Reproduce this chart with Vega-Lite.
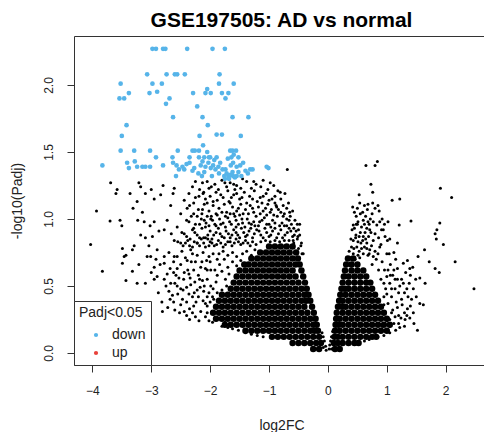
{
"$schema": "https://vega.github.io/schema/vega-lite/v6.json",
"autosize": {"type": "none"},
"padding": {"left": 74, "top": 36, "right": 0, "bottom": 67},
"width": 415,
"height": 329,
"title": {"text": "GSE197505: AD vs normal", "fontSize": 21, "fontWeight": "bold", "font": "Liberation Sans", "anchor": "middle", "frame": "group", "offset": 5, "color": "#000"},
"config": {
  "font": "Liberation Sans",
  "view": {"stroke": "#333", "strokeWidth": 1},
  "legend": {"orient": "bottom-left", "offset": 0, "fillColor": "white", "strokeColor": "#333", "padding": 5, "titleFontSize": 14, "titleFontWeight": "normal", "labelFontSize": 14, "symbolType": "circle", "symbolSize": 18, "symbolOffset": 10, "labelOffset": 9, "rowPadding": 4, "titlePadding": 8, "titleColor": "#222", "labelColor": "#222"}
},
"datasets": {
"core": [
{"x":-0.15,"y":0.03},{"x":-0.25,"y":0.03},
{"x":-0.12,"y":0.075},{"x":-0.2,"y":0.075},{"x":-0.3,"y":0.075},{"x":-0.4,"y":0.075},{"x":-0.5,"y":0.075},{"x":-0.6,"y":0.075},
{"x":-0.15,"y":0.12},{"x":-0.25,"y":0.12},{"x":-0.35,"y":0.12},{"x":-0.45,"y":0.12},{"x":-0.55,"y":0.12},{"x":-0.65,"y":0.12},{"x":-0.75,"y":0.12},{"x":-0.85,"y":0.12},{"x":-0.95,"y":0.12},
{"x":-0.17,"y":0.165},{"x":-0.23,"y":0.165},{"x":-0.3,"y":0.165},{"x":-0.4,"y":0.165},{"x":-0.5,"y":0.165},{"x":-0.6,"y":0.165},{"x":-0.7,"y":0.165},{"x":-0.8,"y":0.165},{"x":-0.9,"y":0.165},{"x":-1.0,"y":0.165},{"x":-1.1,"y":0.165},{"x":-1.2,"y":0.165},{"x":-1.3,"y":0.165},{"x":-1.4,"y":0.165},
{"x":-0.19,"y":0.21},{"x":-0.25,"y":0.21},{"x":-0.35,"y":0.21},{"x":-0.45,"y":0.21},{"x":-0.55,"y":0.21},{"x":-0.65,"y":0.21},{"x":-0.75,"y":0.21},{"x":-0.85,"y":0.21},{"x":-0.95,"y":0.21},{"x":-1.05,"y":0.21},{"x":-1.15,"y":0.21},{"x":-1.25,"y":0.21},{"x":-1.35,"y":0.21},{"x":-1.45,"y":0.21},{"x":-1.55,"y":0.21},{"x":-1.65,"y":0.21},{"x":-1.75,"y":0.21},
{"x":-0.21,"y":0.255},{"x":-0.3,"y":0.255},{"x":-0.4,"y":0.255},{"x":-0.5,"y":0.255},{"x":-0.6,"y":0.255},{"x":-0.7,"y":0.255},{"x":-0.8,"y":0.255},{"x":-0.9,"y":0.255},{"x":-1.0,"y":0.255},{"x":-1.1,"y":0.255},{"x":-1.2,"y":0.255},{"x":-1.3,"y":0.255},{"x":-1.4,"y":0.255},{"x":-1.5,"y":0.255},{"x":-1.6,"y":0.255},{"x":-1.7,"y":0.255},{"x":-1.8,"y":0.255},{"x":-1.9,"y":0.255},
{"x":-0.24,"y":0.3},{"x":-0.35,"y":0.3},{"x":-0.45,"y":0.3},{"x":-0.55,"y":0.3},{"x":-0.65,"y":0.3},{"x":-0.75,"y":0.3},{"x":-0.85,"y":0.3},{"x":-0.95,"y":0.3},{"x":-1.05,"y":0.3},{"x":-1.15,"y":0.3},{"x":-1.25,"y":0.3},{"x":-1.35,"y":0.3},{"x":-1.45,"y":0.3},{"x":-1.55,"y":0.3},{"x":-1.65,"y":0.3},{"x":-1.75,"y":0.3},{"x":-1.85,"y":0.3},{"x":-1.95,"y":0.3},
{"x":-0.27,"y":0.345},{"x":-0.4,"y":0.345},{"x":-0.5,"y":0.345},{"x":-0.6,"y":0.345},{"x":-0.7,"y":0.345},{"x":-0.8,"y":0.345},{"x":-0.9,"y":0.345},{"x":-1.0,"y":0.345},{"x":-1.1,"y":0.345},{"x":-1.2,"y":0.345},{"x":-1.3,"y":0.345},{"x":-1.4,"y":0.345},{"x":-1.5,"y":0.345},{"x":-1.6,"y":0.345},{"x":-1.7,"y":0.345},{"x":-1.8,"y":0.345},{"x":-1.9,"y":0.345},
{"x":-0.3,"y":0.39},{"x":-0.37,"y":0.39},{"x":-0.45,"y":0.39},{"x":-0.55,"y":0.39},{"x":-0.65,"y":0.39},{"x":-0.75,"y":0.39},{"x":-0.85,"y":0.39},{"x":-0.95,"y":0.39},{"x":-1.05,"y":0.39},{"x":-1.15,"y":0.39},{"x":-1.25,"y":0.39},{"x":-1.35,"y":0.39},{"x":-1.45,"y":0.39},{"x":-1.55,"y":0.39},{"x":-1.65,"y":0.39},{"x":-1.75,"y":0.39},{"x":-1.85,"y":0.39},
{"x":-0.33,"y":0.435},{"x":-0.4,"y":0.435},{"x":-0.5,"y":0.435},{"x":-0.6,"y":0.435},{"x":-0.7,"y":0.435},{"x":-0.8,"y":0.435},{"x":-0.9,"y":0.435},{"x":-1.0,"y":0.435},{"x":-1.1,"y":0.435},{"x":-1.2,"y":0.435},{"x":-1.3,"y":0.435},{"x":-1.4,"y":0.435},{"x":-1.5,"y":0.435},{"x":-1.6,"y":0.435},{"x":-1.7,"y":0.435},{"x":-1.8,"y":0.435},
{"x":-0.36,"y":0.48},{"x":-0.45,"y":0.48},{"x":-0.55,"y":0.48},{"x":-0.65,"y":0.48},{"x":-0.75,"y":0.48},{"x":-0.85,"y":0.48},{"x":-0.95,"y":0.48},{"x":-1.05,"y":0.48},{"x":-1.15,"y":0.48},{"x":-1.25,"y":0.48},{"x":-1.35,"y":0.48},{"x":-1.45,"y":0.48},{"x":-1.55,"y":0.48},{"x":-1.65,"y":0.48},
{"x":-0.39,"y":0.525},{"x":-0.5,"y":0.525},{"x":-0.6,"y":0.525},{"x":-0.7,"y":0.525},{"x":-0.8,"y":0.525},{"x":-0.9,"y":0.525},{"x":-1.0,"y":0.525},{"x":-1.1,"y":0.525},{"x":-1.2,"y":0.525},{"x":-1.3,"y":0.525},{"x":-1.4,"y":0.525},{"x":-1.5,"y":0.525},{"x":-1.6,"y":0.525},
{"x":-0.42,"y":0.57},{"x":-0.55,"y":0.57},{"x":-0.65,"y":0.57},{"x":-0.75,"y":0.57},{"x":-0.85,"y":0.57},{"x":-0.95,"y":0.57},{"x":-1.05,"y":0.57},{"x":-1.15,"y":0.57},{"x":-1.25,"y":0.57},{"x":-1.35,"y":0.57},{"x":-1.45,"y":0.57},{"x":-1.55,"y":0.57},
{"x":-0.45,"y":0.615},{"x":-0.6,"y":0.615},{"x":-0.7,"y":0.615},{"x":-0.8,"y":0.615},{"x":-0.9,"y":0.615},{"x":-1.0,"y":0.615},{"x":-1.1,"y":0.615},{"x":-1.2,"y":0.615},{"x":-1.3,"y":0.615},{"x":-1.4,"y":0.615},{"x":-1.5,"y":0.615},
{"x":-0.48,"y":0.66},{"x":-0.55,"y":0.66},{"x":-0.65,"y":0.66},{"x":-0.75,"y":0.66},{"x":-0.85,"y":0.66},{"x":-0.95,"y":0.66},{"x":-1.05,"y":0.66},{"x":-1.15,"y":0.66},{"x":-1.25,"y":0.66},{"x":-1.35,"y":0.66},{"x":-1.42,"y":0.66},
{"x":-0.51,"y":0.705},{"x":-0.6,"y":0.705},{"x":-0.7,"y":0.705},{"x":-0.8,"y":0.705},{"x":-0.9,"y":0.705},{"x":-1.0,"y":0.705},{"x":-1.1,"y":0.705},{"x":-1.2,"y":0.705},{"x":-1.3,"y":0.705},
{"x":-0.54,"y":0.75},{"x":-0.65,"y":0.75},{"x":-0.75,"y":0.75},{"x":-0.85,"y":0.75},{"x":-0.95,"y":0.75},{"x":-1.05,"y":0.75},{"x":-1.15,"y":0.75},
{"x":-0.6,"y":0.795},{"x":-0.7,"y":0.795},{"x":-0.8,"y":0.795},{"x":-0.9,"y":0.795},{"x":-1.0,"y":0.795},
{"x":0.12,"y":0.03},{"x":0.2,"y":0.03},
{"x":0.1,"y":0.075},{"x":0.17,"y":0.075},{"x":0.25,"y":0.075},{"x":0.35,"y":0.075},{"x":0.45,"y":0.075},{"x":0.52,"y":0.075},
{"x":0.11,"y":0.12},{"x":0.17,"y":0.12},{"x":0.25,"y":0.12},{"x":0.35,"y":0.12},{"x":0.45,"y":0.12},{"x":0.55,"y":0.12},{"x":0.65,"y":0.12},{"x":0.75,"y":0.12},{"x":0.82,"y":0.12},
{"x":0.12,"y":0.165},{"x":0.2,"y":0.165},{"x":0.3,"y":0.165},{"x":0.4,"y":0.165},{"x":0.5,"y":0.165},{"x":0.6,"y":0.165},{"x":0.7,"y":0.165},{"x":0.8,"y":0.165},{"x":0.9,"y":0.165},{"x":1.0,"y":0.165},
{"x":0.13,"y":0.21},{"x":0.18,"y":0.21},{"x":0.25,"y":0.21},{"x":0.35,"y":0.21},{"x":0.45,"y":0.21},{"x":0.55,"y":0.21},{"x":0.65,"y":0.21},{"x":0.75,"y":0.21},{"x":0.85,"y":0.21},{"x":0.95,"y":0.21},{"x":1.05,"y":0.21},
{"x":0.14,"y":0.255},{"x":0.2,"y":0.255},{"x":0.3,"y":0.255},{"x":0.4,"y":0.255},{"x":0.5,"y":0.255},{"x":0.6,"y":0.255},{"x":0.7,"y":0.255},{"x":0.8,"y":0.255},{"x":0.9,"y":0.255},{"x":1.0,"y":0.255},
{"x":0.15,"y":0.3},{"x":0.25,"y":0.3},{"x":0.35,"y":0.3},{"x":0.45,"y":0.3},{"x":0.55,"y":0.3},{"x":0.65,"y":0.3},{"x":0.75,"y":0.3},{"x":0.85,"y":0.3},{"x":0.95,"y":0.3},
{"x":0.17,"y":0.345},{"x":0.24,"y":0.345},{"x":0.3,"y":0.345},{"x":0.4,"y":0.345},{"x":0.5,"y":0.345},{"x":0.6,"y":0.345},{"x":0.7,"y":0.345},{"x":0.8,"y":0.345},{"x":0.9,"y":0.345},
{"x":0.19,"y":0.39},{"x":0.25,"y":0.39},{"x":0.35,"y":0.39},{"x":0.45,"y":0.39},{"x":0.55,"y":0.39},{"x":0.65,"y":0.39},{"x":0.75,"y":0.39},{"x":0.85,"y":0.39},
{"x":0.21,"y":0.435},{"x":0.3,"y":0.435},{"x":0.4,"y":0.435},{"x":0.5,"y":0.435},{"x":0.6,"y":0.435},{"x":0.7,"y":0.435},{"x":0.8,"y":0.435},
{"x":0.23,"y":0.48},{"x":0.29,"y":0.48},{"x":0.35,"y":0.48},{"x":0.45,"y":0.48},{"x":0.55,"y":0.48},{"x":0.65,"y":0.48},{"x":0.75,"y":0.48},
{"x":0.25,"y":0.525},{"x":0.35,"y":0.525},{"x":0.45,"y":0.525},{"x":0.55,"y":0.525},{"x":0.65,"y":0.525},{"x":0.72,"y":0.525},
{"x":0.27,"y":0.57},{"x":0.35,"y":0.57},{"x":0.45,"y":0.57},{"x":0.55,"y":0.57},{"x":0.65,"y":0.57},
{"x":0.29,"y":0.615},{"x":0.4,"y":0.615},{"x":0.5,"y":0.615},{"x":0.6,"y":0.615},
{"x":0.31,"y":0.66},{"x":0.4,"y":0.66},{"x":0.5,"y":0.66},
{"x":0.34,"y":0.705},{"x":0.43,"y":0.705}
],
"dots": [
{"x":-3.69,"y":1.27},{"x":-3.6,"y":1.19},{"x":-3.58,"y":1.22},{"x":-3.93,"y":1.06},{"x":-3.7,"y":0.985},{"x":-3.53,"y":0.99},{"x":-3.5,"y":0.95},{"x":-4.03,"y":0.81},{"x":-3.49,"y":0.78},{"x":-3.46,"y":0.72},{"x":-3.36,"y":1.19},{"x":-3.31,"y":1.08},{"x":-3.24,"y":1.13},{"x":-3.21,"y":1.27},{"x":-3.18,"y":1.24},{"x":-3.15,"y":1.05},{"x":-3.23,"y":0.99},{"x":-3.12,"y":0.98},{"x":-3.1,"y":1.19},{"x":-3.0,"y":1.22},{"x":-2.95,"y":1.15},{"x":-2.84,"y":1.18},{"x":-2.8,"y":1.25},{"x":-3.02,"y":0.95},{"x":-2.95,"y":0.98},{"x":-3.29,"y":0.8},{"x":-3.32,"y":0.77},{"x":-3.18,"y":0.88},{"x":-3.1,"y":0.86},{"x":-3.04,"y":0.8},{"x":-2.98,"y":0.87},{"x":-2.87,"y":0.91},{"x":-2.9,"y":0.77},{"x":-2.78,"y":0.92},{"x":-2.73,"y":0.99},{"x":-2.67,"y":1.1},{"x":-2.63,"y":1.19},{"x":-2.61,"y":1.23},{"x":-2.66,"y":0.89},{"x":-2.61,"y":0.84},{"x":-2.56,"y":0.94},{"x":-2.5,"y":1.04},{"x":-2.44,"y":1.14},{"x":-2.36,"y":1.19},{"x":-2.3,"y":1.24},{"x":-2.25,"y":1.28},{"x":-2.13,"y":1.27},{"x":-2.39,"y":1.08},{"x":-2.28,"y":1.12},{"x":-2.19,"y":1.17},{"x":-2.11,"y":1.2},{"x":-2.02,"y":1.23},{"x":-2.5,"y":0.82},{"x":-2.44,"y":0.89},{"x":-2.36,"y":0.98},{"x":-2.28,"y":0.93},{"x":-2.22,"y":1.02},{"x":-2.13,"y":1.07},{"x":-2.05,"y":1.12},{"x":-2.08,"y":0.94},{"x":-1.99,"y":1.0},{"x":-2.33,"y":0.77},{"x":-2.22,"y":0.82},{"x":-2.11,"y":0.86},{"x":-2.02,"y":0.8},{"x":-2.56,"y":0.72},{"x":-2.78,"y":0.72},{"x":-3.01,"y":0.72},
{"x":-3.83,"y":0.61},{"x":-3.43,"y":0.73},{"x":-3.49,"y":0.67},{"x":-3.43,"y":0.54},{"x":-3.24,"y":0.52},{"x":-3.32,"y":0.61},{"x":-3.21,"y":0.66},{"x":-3.1,"y":0.52},{"x":-3.07,"y":0.72},{"x":-2.95,"y":0.64},{"x":-2.9,"y":0.57},{"x":-2.81,"y":0.31},{"x":-2.78,"y":0.67},{"x":-2.73,"y":0.59},{"x":-2.67,"y":0.52},{"x":-2.64,"y":0.43},{"x":-2.61,"y":0.72},{"x":-2.56,"y":0.63},{"x":-2.53,"y":0.56},{"x":-2.5,"y":0.48},{"x":-2.47,"y":0.4},{"x":-2.44,"y":0.31},{"x":-2.39,"y":0.69},{"x":-2.36,"y":0.59},{"x":-2.33,"y":0.51},{"x":-2.3,"y":0.42},{"x":-2.28,"y":0.35},{"x":-2.25,"y":0.27},{"x":-2.19,"y":0.24},{"x":-2.22,"y":0.73},{"x":-2.16,"y":0.64},{"x":-2.13,"y":0.54},{"x":-2.11,"y":0.46},{"x":-2.08,"y":0.37},{"x":-2.05,"y":0.3},{"x":-2.02,"y":0.72},{"x":-1.99,"y":0.62},{"x":-1.99,"y":0.5},{"x":-1.96,"y":0.42},{"x":-1.96,"y":0.23},
{"x":-2.7,"y":0.75},{"x":-2.62,"y":0.68},{"x":-2.48,"y":0.76},{"x":-2.42,"y":0.71},{"x":-2.3,"y":0.74},{"x":-2.25,"y":0.68},{"x":-2.12,"y":0.75},{"x":-2.06,"y":0.69},{"x":-1.95,"y":0.74},{"x":-1.88,"y":0.7},{"x":-2.85,"y":0.66},{"x":-2.68,"y":0.63},{"x":-2.5,"y":0.66},{"x":-2.44,"y":0.6},{"x":-2.28,"y":0.62},{"x":-2.2,"y":0.58},{"x":-2.08,"y":0.63},{"x":-1.92,"y":0.62},{"x":-1.84,"y":0.66},{"x":-2.78,"y":0.55},{"x":-2.6,"y":0.52},{"x":-2.45,"y":0.55},{"x":-2.4,"y":0.49},{"x":-2.26,"y":0.53},{"x":-2.17,"y":0.49},{"x":-2.05,"y":0.55},{"x":-1.9,"y":0.53},{"x":-2.7,"y":0.46},{"x":-2.55,"y":0.44},{"x":-2.36,"y":0.44},{"x":-2.2,"y":0.42},{"x":-2.12,"y":0.39},{"x":-2.02,"y":0.45},{"x":-2.5,"y":0.36},{"x":-2.35,"y":0.33},{"x":-2.16,"y":0.31},{"x":-2.08,"y":0.27},{"x":-2.6,"y":0.32},{"x":-2.4,"y":0.28},{"x":-2.02,"y":0.24},{"x":-2.58,"y":0.58},{"x":-2.34,"y":0.56},{"x":-2.22,"y":0.47},{"x":-2.05,"y":0.35},{"x":-2.3,"y":0.3},
{"x":-2.88,"y":0.45},{"x":-2.82,"y":0.38},{"x":-2.75,"y":0.5},{"x":-2.68,"y":0.4},{"x":-2.62,"y":0.6},{"x":-2.56,"y":0.5},{"x":-2.52,"y":0.3},{"x":-2.46,"y":0.47},{"x":-2.4,"y":0.38},{"x":-2.38,"y":0.62},{"x":-2.32,"y":0.68},{"x":-2.27,"y":0.45},{"x":-2.24,"y":0.38},{"x":-2.18,"y":0.55},{"x":-2.14,"y":0.68},{"x":-2.1,"y":0.5},{"x":-2.05,"y":0.62},{"x":-2.0,"y":0.68},{"x":-2.95,"y":0.55},{"x":-2.92,"y":0.7},{"x":-3.0,"y":0.6},{"x":-2.72,"y":0.34},{"x":-2.62,"y":0.38},{"x":-2.35,"y":0.25},
{"x":-2.05,"y":1.28},{"x":-1.92,"y":1.26},{"x":-1.8,"y":1.29},{"x":-1.66,"y":1.27},{"x":-1.55,"y":1.25},{"x":-1.38,"y":1.28},{"x":-1.22,"y":1.26},{"x":-1.1,"y":1.29},{"x":-0.98,"y":1.27},{"x":-1.45,"y":1.3},{"x":-1.72,"y":1.24},{"x":-1.3,"y":1.23},{"x":-1.86,"y":1.22},{"x":-2.18,"y":1.22},
{"x":-1.98,"y":1.24},{"x":-1.6,"y":1.26},{"x":-1.26,"y":1.28},{"x":-1.48,"y":1.23},{"x":-1.14,"y":1.24},{"x":-1.02,"y":1.22},{"x":-0.92,"y":1.25},{"x":-1.75,"y":1.27},
{"x":-2.12,"y":1.19},{"x":-2.0,"y":1.17},{"x":-1.9,"y":1.2},{"x":-1.78,"y":1.16},{"x":-1.7,"y":1.21},{"x":-1.6,"y":1.18},{"x":-1.5,"y":1.15},{"x":-1.42,"y":1.2},{"x":-1.33,"y":1.17},{"x":-1.25,"y":1.21},{"x":-1.15,"y":1.16},{"x":-1.05,"y":1.19},{"x":-0.95,"y":1.15},{"x":-0.85,"y":1.21},{"x":-1.58,"y":1.22},{"x":-1.2,"y":1.13},{"x":-1.88,"y":1.14},{"x":-2.25,"y":1.16},{"x":-1.68,"y":1.13},{"x":-1.38,"y":1.12},
{"x":-2.08,"y":1.15},{"x":-1.95,"y":1.13},{"x":-1.82,"y":1.18},{"x":-1.64,"y":1.16},{"x":-1.55,"y":1.19},{"x":-1.46,"y":1.16},{"x":-1.28,"y":1.15},{"x":-1.1,"y":1.17},{"x":-1.0,"y":1.14},{"x":-0.9,"y":1.12},{"x":-0.8,"y":1.15},{"x":-0.76,"y":1.1},
{"x":-2.35,"y":1.1},{"x":-2.2,"y":1.07},{"x":-2.1,"y":1.11},{"x":-2.02,"y":1.06},{"x":-1.95,"y":1.1},{"x":-1.85,"y":1.08},{"x":-1.76,"y":1.11},{"x":-1.72,"y":1.05},{"x":-1.62,"y":1.09},{"x":-1.55,"y":1.06},{"x":-1.48,"y":1.11},{"x":-1.4,"y":1.07},{"x":-1.32,"y":1.1},{"x":-1.26,"y":1.05},{"x":-1.18,"y":1.09},{"x":-1.1,"y":1.06},{"x":-1.02,"y":1.11},{"x":-0.96,"y":1.07},{"x":-0.88,"y":1.1},{"x":-0.8,"y":1.05},{"x":-0.7,"y":1.08},{"x":-1.66,"y":1.12},{"x":-1.9,"y":1.04},{"x":-1.12,"y":1.12},{"x":-1.44,"y":1.04},{"x":-2.28,"y":1.04},{"x":-0.92,"y":1.03},{"x":-1.58,"y":1.02},
{"x":-2.14,"y":1.04},{"x":-2.05,"y":1.02},{"x":-1.8,"y":1.05},{"x":-1.66,"y":1.04},{"x":-1.52,"y":1.08},{"x":-1.35,"y":1.04},{"x":-1.28,"y":1.08},{"x":-1.15,"y":1.04},{"x":-1.06,"y":1.08},{"x":-0.98,"y":1.05},{"x":-0.84,"y":1.07},{"x":-0.74,"y":1.04},{"x":-0.64,"y":1.02},{"x":-0.6,"y":1.06},
{"x":-2.4,"y":0.99},{"x":-2.32,"y":1.02},{"x":-2.25,"y":0.96},{"x":-2.15,"y":1.0},{"x":-2.07,"y":0.97},{"x":-1.98,"y":1.02},{"x":-1.92,"y":0.96},{"x":-1.84,"y":1.0},{"x":-1.78,"y":0.97},{"x":-1.7,"y":1.01},{"x":-1.64,"y":0.96},{"x":-1.56,"y":0.99},{"x":-1.5,"y":1.03},{"x":-1.45,"y":0.97},{"x":-1.37,"y":1.0},{"x":-1.3,"y":0.96},{"x":-1.22,"y":1.02},{"x":-1.16,"y":0.98},{"x":-1.08,"y":1.01},{"x":-1.0,"y":0.96},{"x":-0.94,"y":0.99},{"x":-0.86,"y":1.02},{"x":-0.78,"y":0.97},{"x":-0.7,"y":1.0},{"x":-0.62,"y":0.96},{"x":-0.56,"y":0.99},{"x":-1.88,"y":1.03},{"x":-1.6,"y":1.04},{"x":-1.26,"y":0.98},{"x":-1.04,"y":1.03},{"x":-0.82,"y":0.95},{"x":-2.02,"y":0.95},
{"x":-2.18,"y":0.96},{"x":-2.1,"y":0.99},{"x":-1.96,"y":0.99},{"x":-1.82,"y":0.96},{"x":-1.74,"y":0.94},{"x":-1.67,"y":0.98},{"x":-1.52,"y":0.96},{"x":-1.41,"y":0.94},{"x":-1.34,"y":0.97},{"x":-1.18,"y":0.95},{"x":-1.12,"y":0.99},{"x":-1.04,"y":0.96},{"x":-0.9,"y":0.97},{"x":-0.74,"y":0.95},{"x":-0.66,"y":0.99},{"x":-0.58,"y":0.93},{"x":-0.52,"y":0.96},{"x":-1.46,"y":1.0},{"x":-1.74,"y":1.02},
{"x":-2.48,"y":0.9},{"x":-2.4,"y":0.87},{"x":-2.3,"y":0.92},{"x":-2.22,"y":0.88},{"x":-2.14,"y":0.93},{"x":-2.08,"y":0.86},{"x":-2.0,"y":0.91},{"x":-1.94,"y":0.88},{"x":-1.86,"y":0.93},{"x":-1.8,"y":0.87},{"x":-1.73,"y":0.91},{"x":-1.66,"y":0.86},{"x":-1.6,"y":0.92},{"x":-1.53,"y":0.88},{"x":-1.47,"y":0.93},{"x":-1.4,"y":0.87},{"x":-1.34,"y":0.91},{"x":-1.28,"y":0.86},{"x":-1.21,"y":0.92},{"x":-1.14,"y":0.88},{"x":-1.07,"y":0.93},{"x":-1.0,"y":0.87},{"x":-0.94,"y":0.91},{"x":-0.87,"y":0.86},{"x":-0.8,"y":0.92},{"x":-0.73,"y":0.88},{"x":-0.66,"y":0.93},{"x":-0.6,"y":0.87},{"x":-0.54,"y":0.91},{"x":-0.48,"y":0.88},{"x":-1.9,"y":0.95},{"x":-1.56,"y":0.94},{"x":-1.24,"y":0.95},{"x":-0.97,"y":0.94},{"x":-0.7,"y":0.95},{"x":-2.34,"y":0.85},
{"x":-2.26,"y":0.9},{"x":-2.18,"y":0.86},{"x":-2.04,"y":0.88},{"x":-1.97,"y":0.85},{"x":-1.9,"y":0.9},{"x":-1.83,"y":0.89},{"x":-1.76,"y":0.86},{"x":-1.69,"y":0.89},{"x":-1.63,"y":0.88},{"x":-1.56,"y":0.9},{"x":-1.5,"y":0.86},{"x":-1.43,"y":0.9},{"x":-1.37,"y":0.88},{"x":-1.31,"y":0.93},{"x":-1.25,"y":0.89},{"x":-1.17,"y":0.91},{"x":-1.1,"y":0.86},{"x":-1.04,"y":0.9},{"x":-0.97,"y":0.88},{"x":-0.9,"y":0.93},{"x":-0.84,"y":0.89},{"x":-0.77,"y":0.86},{"x":-0.69,"y":0.9},{"x":-0.63,"y":0.91},{"x":-0.57,"y":0.88},{"x":-0.51,"y":0.87},
{"x":-2.55,"y":0.83},{"x":-2.46,"y":0.8},{"x":-2.38,"y":0.84},{"x":-2.3,"y":0.79},{"x":-2.22,"y":0.82},{"x":-2.15,"y":0.85},{"x":-2.08,"y":0.79},{"x":-2.0,"y":0.83},{"x":-1.93,"y":0.8},{"x":-1.86,"y":0.84},{"x":-1.78,"y":0.79},{"x":-1.7,"y":0.83},{"x":-1.63,"y":0.8},{"x":-1.56,"y":0.85},{"x":-1.48,"y":0.81},{"x":-1.4,"y":0.84},{"x":-1.32,"y":0.8},{"x":-0.58,"y":0.82},{"x":-0.52,"y":0.85},{"x":-0.46,"y":0.8},{"x":-0.5,"y":0.78},{"x":-0.62,"y":0.79},{"x":-0.44,"y":0.74},
{"x":-2.42,"y":0.82},{"x":-2.35,"y":0.8},{"x":-2.27,"y":0.83},{"x":-2.18,"y":0.8},{"x":-2.11,"y":0.82},{"x":-2.04,"y":0.85},{"x":-1.97,"y":0.82},{"x":-1.89,"y":0.81},{"x":-1.82,"y":0.82},{"x":-1.74,"y":0.81},{"x":-1.66,"y":0.83},{"x":-1.59,"y":0.82},{"x":-1.52,"y":0.83},{"x":-1.44,"y":0.82},{"x":-1.36,"y":0.82},{"x":-1.28,"y":0.83},{"x":-1.22,"y":0.81},{"x":-1.14,"y":0.83},{"x":-1.06,"y":0.84},{"x":-0.98,"y":0.83},{"x":-0.9,"y":0.84},{"x":-0.82,"y":0.83},{"x":-0.74,"y":0.84},{"x":-0.66,"y":0.84},
{"x":-1.45,"y":0.74},{"x":-1.38,"y":0.76},{"x":-1.3,"y":0.73},{"x":-1.24,"y":0.77},{"x":-1.55,"y":0.72},{"x":-1.62,"y":0.75},{"x":-1.7,"y":0.73},{"x":-1.78,"y":0.76},{"x":-1.85,"y":0.74},
{"x":-1.55,"y":0.65},{"x":-1.62,"y":0.68},{"x":-1.7,"y":0.64},{"x":-1.76,"y":0.7},{"x":-1.48,"y":0.69},{"x":-1.8,"y":0.61},{"x":-1.68,"y":0.59},{"x":-1.74,"y":0.55},{"x":-1.72,"y":0.5},{"x":-1.8,"y":0.47},{"x":-1.88,"y":0.45},{"x":-1.95,"y":0.48},{"x":-1.88,"y":0.58},{"x":-1.94,"y":0.4},{"x":-2.0,"y":0.38},{"x":-2.05,"y":0.42},
{"x":-0.69,"y":1.37},{"x":-0.48,"y":0.96},{"x":-0.5,"y":0.92},{"x":-0.59,"y":0.84},{"x":-0.65,"y":1.05},{"x":-0.67,"y":1.12},{"x":-0.73,"y":1.19},{"x":-0.81,"y":1.2},{"x":-0.9,"y":1.17},{"x":-0.87,"y":1.09},{"x":-0.76,"y":1.02},{"x":-0.45,"y":0.82},{"x":-0.42,"y":0.74},
{"x":-1.8,"y":0.2},{"x":-1.7,"y":0.19},{"x":-1.62,"y":0.18},{"x":-1.52,"y":0.17},{"x":-1.4,"y":0.15},{"x":-1.3,"y":0.14},{"x":-1.2,"y":0.13},{"x":-1.1,"y":0.12},{"x":-1.88,"y":0.26},{"x":-1.75,"y":0.23},
{"x":-0.03,"y":0.02},{"x":-0.04,"y":0.05},{"x":-0.06,"y":0.09},{"x":-0.08,"y":0.12},{"x":-0.1,"y":0.15},{"x":-0.08,"y":0.04},{"x":0.02,"y":0.03},{"x":0.03,"y":0.06},{"x":0.045,"y":0.09},{"x":0.06,"y":0.12},{"x":0.08,"y":0.16},{"x":0.06,"y":0.03},
{"x":0.7,"y":0.1},{"x":0.85,"y":0.12},{"x":0.95,"y":0.13},{"x":1.05,"y":0.15},{"x":1.15,"y":0.17},{"x":0.62,"y":0.09},
{"x":0.645,"y":1.4},{"x":0.8,"y":1.4},{"x":0.84,"y":1.43},{"x":0.73,"y":1.26},{"x":0.76,"y":1.2},{"x":0.53,"y":1.18},{"x":0.42,"y":1.09},{"x":0.54,"y":1.12},{"x":0.62,"y":1.1},{"x":0.68,"y":1.11},{"x":0.76,"y":1.12},{"x":0.85,"y":1.1},{"x":0.87,"y":1.06},{"x":0.67,"y":1.07},{"x":0.59,"y":1.05},{"x":1.09,"y":1.14},{"x":1.22,"y":1.15},{"x":1.91,"y":1.23},{"x":2.1,"y":1.16},{"x":1.41,"y":0.985},{"x":1.21,"y":0.955},{"x":1.9,"y":0.97},{"x":1.85,"y":0.92},{"x":1.82,"y":0.89},{"x":1.84,"y":0.85},{"x":1.96,"y":0.81},{"x":1.64,"y":0.77},{"x":1.53,"y":0.72},{"x":1.18,"y":0.82},{"x":1.01,"y":0.84},{"x":1.05,"y":0.85},{"x":0.97,"y":0.87},{"x":1.02,"y":0.98},{"x":0.94,"y":0.92},{"x":0.91,"y":0.92},{"x":1.0,"y":0.74},{"x":1.04,"y":0.74},{"x":0.88,"y":0.79},{"x":0.77,"y":0.84},{"x":0.8,"y":0.89},{"x":0.71,"y":0.92},{"x":0.83,"y":0.955},{"x":0.77,"y":0.98},{"x":0.68,"y":0.98},{"x":0.6,"y":0.99},{"x":0.51,"y":0.98},{"x":0.43,"y":0.955},{"x":0.57,"y":0.94},{"x":0.66,"y":0.93},
{"x":0.475,"y":0.88},{"x":0.53,"y":0.87},{"x":0.6,"y":0.87},{"x":0.43,"y":0.84},{"x":0.51,"y":0.83},{"x":0.59,"y":0.84},{"x":0.66,"y":0.82},{"x":0.4,"y":0.79},{"x":0.49,"y":0.79},{"x":0.57,"y":0.78},{"x":0.66,"y":0.78},{"x":0.71,"y":0.77},{"x":0.43,"y":0.74},{"x":0.51,"y":0.73},{"x":0.6,"y":0.74},{"x":0.68,"y":0.73},{"x":0.77,"y":0.72},{"x":0.385,"y":0.71},{"x":0.46,"y":0.7},{"x":0.54,"y":0.71},{"x":0.45,"y":0.93},{"x":0.5,"y":0.96},{"x":0.62,"y":0.96},{"x":0.72,"y":1.0},{"x":0.48,"y":1.02},
{"x":0.36,"y":0.76},{"x":0.44,"y":0.78},{"x":0.53,"y":0.76},{"x":0.62,"y":0.79},{"x":0.7,"y":0.74},{"x":0.74,"y":0.8},{"x":0.8,"y":0.76},{"x":0.85,"y":0.74},{"x":0.39,"y":0.85},{"x":0.47,"y":0.86},{"x":0.56,"y":0.82},{"x":0.64,"y":0.85},{"x":0.69,"y":0.87},{"x":0.73,"y":0.9},{"x":0.86,"y":0.86},{"x":0.9,"y":0.81},{"x":0.55,"y":0.9},{"x":0.63,"y":0.9},{"x":0.41,"y":0.92},{"x":0.48,"y":0.96},{"x":0.7,"y":0.96},{"x":0.75,"y":1.04},{"x":0.64,"y":1.02},{"x":0.55,"y":1.04},{"x":0.45,"y":1.05},{"x":0.5,"y":1.08},{"x":0.8,"y":1.08},{"x":0.92,"y":1.0},{"x":0.96,"y":0.96},{"x":0.88,"y":0.98},
{"x":1.72,"y":0.68},{"x":2.16,"y":0.68},{"x":1.82,"y":0.63},{"x":1.89,"y":0.6},{"x":2.48,"y":0.48},{"x":1.65,"y":0.52},{"x":1.56,"y":0.56},{"x":1.49,"y":0.55},{"x":1.39,"y":0.63},{"x":1.35,"y":0.69},{"x":1.45,"y":0.48},{"x":1.56,"y":0.37},{"x":1.62,"y":0.36},{"x":1.39,"y":0.26},{"x":1.46,"y":0.22},{"x":1.52,"y":0.17},{"x":1.31,"y":0.25},
{"x":1.02,"y":0.62},{"x":1.1,"y":0.58},{"x":1.18,"y":0.63},{"x":1.25,"y":0.55},{"x":1.32,"y":0.6},{"x":1.05,"y":0.52},{"x":1.14,"y":0.48},{"x":1.22,"y":0.5},{"x":1.3,"y":0.45},{"x":1.38,"y":0.52},{"x":1.42,"y":0.4},{"x":1.08,"y":0.42},{"x":1.16,"y":0.38},{"x":1.26,"y":0.36},{"x":1.35,"y":0.33},{"x":1.45,"y":0.3},{"x":1.1,"y":0.32},{"x":1.2,"y":0.28},{"x":1.3,"y":0.2},{"x":1.12,"y":0.22},{"x":1.22,"y":0.19},{"x":1.05,"y":0.25},{"x":1.0,"y":0.57},{"x":0.96,"y":0.62},{"x":1.06,"y":0.66},{"x":1.28,"y":0.67},{"x":1.15,"y":0.7},{"x":0.98,"y":0.48},{"x":1.02,"y":0.37},{"x":1.36,"y":0.42},{"x":1.18,"y":0.55},{"x":0.92,"y":0.68},{"x":0.86,"y":0.62},{"x":0.9,"y":0.55},{"x":0.95,"y":0.42},{"x":0.97,"y":0.3},{"x":0.92,"y":0.2},{"x":1.12,"y":0.75},{"x":0.82,"y":0.7},{"x":0.75,"y":0.66},
{"x":0.95,"y":0.52},{"x":1.0,"y":0.44},{"x":1.06,"y":0.58},{"x":1.12,"y":0.62},{"x":1.08,"y":0.48},{"x":1.14,"y":0.55},{"x":1.2,"y":0.45},{"x":1.25,"y":0.4},{"x":1.28,"y":0.52},{"x":1.34,"y":0.48},{"x":1.4,"y":0.58},{"x":1.44,"y":0.64},{"x":1.5,"y":0.42},{"x":1.18,"y":0.34},{"x":1.24,"y":0.26},{"x":1.34,"y":0.28},{"x":1.4,"y":0.35},{"x":1.08,"y":0.3},{"x":1.14,"y":0.27},{"x":1.0,"y":0.24},{"x":0.95,"y":0.36},{"x":1.05,"y":0.2},{"x":1.2,"y":0.22},{"x":1.3,"y":0.3}
],
"sig": [
{"x":-2.98,"y":2.27,"g":"down"},{"x":-2.92,"y":2.27,"g":"down"},{"x":-2.8,"y":2.27,"g":"down"},{"x":-2.76,"y":2.27,"g":"down"},{"x":-2.39,"y":2.27,"g":"down"},{"x":-1.96,"y":2.27,"g":"down"},{"x":-1.75,"y":2.27,"g":"down"},
{"x":-3.07,"y":2.08,"g":"down"},{"x":-2.74,"y":2.08,"g":"down"},{"x":-2.6,"y":2.08,"g":"down"},{"x":-2.56,"y":2.08,"g":"down"},{"x":-2.43,"y":2.08,"g":"down"},{"x":-1.84,"y":2.08,"g":"down"},
{"x":-3.52,"y":2.01,"g":"down"},{"x":-2.98,"y":2.01,"g":"down"},{"x":-2.82,"y":2.01,"g":"down"},{"x":-1.85,"y":2.01,"g":"down"},{"x":-1.6,"y":2.01,"g":"down"},
{"x":-2.05,"y":1.97,"g":"down"},{"x":-3.38,"y":1.94,"g":"down"},{"x":-3.03,"y":1.94,"g":"down"},{"x":-2.9,"y":1.95,"g":"down"},{"x":-2.29,"y":1.94,"g":"down"},{"x":-2.08,"y":1.94,"g":"down"},{"x":-1.99,"y":1.94,"g":"down"},{"x":-1.8,"y":1.94,"g":"down"},{"x":-1.69,"y":1.94,"g":"down"},
{"x":-3.54,"y":1.9,"g":"down"},{"x":-3.46,"y":1.9,"g":"down"},{"x":-2.69,"y":1.9,"g":"down"},{"x":-1.74,"y":1.9,"g":"down"},{"x":-2.75,"y":1.86,"g":"down"},{"x":-2.22,"y":1.84,"g":"down"},
{"x":-2.63,"y":1.76,"g":"down"},{"x":-2.13,"y":1.76,"g":"down"},{"x":-1.62,"y":1.76,"g":"down"},{"x":-1.35,"y":1.76,"g":"down"},{"x":-3.42,"y":1.7,"g":"down"},{"x":-2.04,"y":1.7,"g":"down"},
{"x":-1.89,"y":1.63,"g":"down"},{"x":-1.8,"y":1.63,"g":"down"},{"x":-3.5,"y":1.62,"g":"down"},{"x":-2.18,"y":1.62,"g":"down"},{"x":-1.48,"y":1.62,"g":"down"},{"x":-2.12,"y":1.55,"g":"down"},
{"x":-3.52,"y":1.51,"g":"down"},{"x":-3.29,"y":1.51,"g":"down"},{"x":-3.02,"y":1.51,"g":"down"},{"x":-2.55,"y":1.51,"g":"down"},{"x":-2.3,"y":1.51,"g":"down"},{"x":-2.26,"y":1.51,"g":"down"},{"x":-2.19,"y":1.51,"g":"down"},{"x":-1.66,"y":1.51,"g":"down"},{"x":-1.62,"y":1.51,"g":"down"},{"x":-1.56,"y":1.51,"g":"down"},
{"x":-2.92,"y":1.46,"g":"down"},{"x":-2.64,"y":1.46,"g":"down"},{"x":-2.35,"y":1.46,"g":"down"},{"x":-2.19,"y":1.46,"g":"down"},{"x":-2.1,"y":1.46,"g":"down"},{"x":-2.02,"y":1.46,"g":"down"},{"x":-1.89,"y":1.46,"g":"down"},{"x":-1.64,"y":1.46,"g":"down"},{"x":-1.52,"y":1.46,"g":"down"},
{"x":-3.83,"y":1.4,"g":"down"},{"x":-3.41,"y":1.42,"g":"down"},{"x":-3.38,"y":1.38,"g":"down"},{"x":-3.28,"y":1.43,"g":"down"},{"x":-3.24,"y":1.39,"g":"down"},{"x":-3.15,"y":1.39,"g":"down"},{"x":-3.1,"y":1.39,"g":"down"},{"x":-3.02,"y":1.39,"g":"down"},{"x":-2.8,"y":1.4,"g":"down"},{"x":-2.63,"y":1.42,"g":"down"},{"x":-2.57,"y":1.4,"g":"down"},{"x":-2.53,"y":1.37,"g":"down"},{"x":-2.47,"y":1.39,"g":"down"},{"x":-2.44,"y":1.37,"g":"down"},{"x":-2.27,"y":1.38,"g":"down"},{"x":-2.16,"y":1.4,"g":"down"},{"x":-2.13,"y":1.43,"g":"down"},{"x":-2.08,"y":1.39,"g":"down"},{"x":-2.03,"y":1.42,"g":"down"},{"x":-1.99,"y":1.38,"g":"down"},{"x":-1.95,"y":1.4,"g":"down"},{"x":-1.91,"y":1.37,"g":"down"},{"x":-1.86,"y":1.39,"g":"down"},{"x":-1.79,"y":1.37,"g":"down"},{"x":-1.74,"y":1.37,"g":"down"},{"x":-1.65,"y":1.4,"g":"down"},{"x":-1.61,"y":1.42,"g":"down"},{"x":-1.55,"y":1.39,"g":"down"},{"x":-1.49,"y":1.4,"g":"down"},{"x":-1.44,"y":1.42,"g":"down"},{"x":-1.32,"y":1.37,"g":"down"},{"x":-1.28,"y":1.37,"g":"down"},{"x":-1.04,"y":1.39,"g":"down"},{"x":-1.01,"y":1.38,"g":"down"},
{"x":-2.58,"y":1.32,"g":"down"},{"x":-2.14,"y":1.32,"g":"down"},{"x":-1.97,"y":1.32,"g":"down"},{"x":-1.76,"y":1.32,"g":"down"},{"x":-1.69,"y":1.32,"g":"down"},{"x":-1.61,"y":1.32,"g":"down"},{"x":-1.55,"y":1.32,"g":"down"},{"x":-1.47,"y":1.32,"g":"down"},
{"x":-1.72,"y":1.34,"g":"down"},{"x":-1.66,"y":1.33,"g":"down"},{"x":-1.62,"y":1.35,"g":"down"},{"x":-1.58,"y":1.31,"g":"down"},{"x":-1.75,"y":1.3,"g":"down"},{"x":-1.68,"y":1.3,"g":"down"},{"x":-2.1,"y":1.35,"g":"down"},{"x":-2.2,"y":1.34,"g":"down"},{"x":-1.85,"y":1.34,"g":"down"},{"x":-1.52,"y":1.35,"g":"down"},{"x":-1.4,"y":1.36,"g":"down"},{"x":-1.36,"y":1.34,"g":"down"},{"x":-2.3,"y":1.36,"g":"down"},{"x":-2.4,"y":1.41,"g":"down"},{"x":-2.0,"y":1.46,"g":"down"},{"x":-1.93,"y":1.44,"g":"down"},{"x":-1.83,"y":1.42,"g":"down"},{"x":-1.7,"y":1.45,"g":"down"},{"x":-1.6,"y":1.48,"g":"down"},{"x":-2.05,"y":1.5,"g":"down"},{"x":-2.35,"y":1.42,"g":"down"}
]
},
"encoding": {
  "x": {"field": "x", "type": "quantitative", "scale": {"domain": [-4.312, 2.735], "nice": false, "zero": false},
        "axis": {"values": [-4,-3,-2,-1,0,1,2], "title": "log2FC", "grid": false, "domain": false, "tickSize": 7, "tickColor": "#333", "labelFontSize": 12, "labelColor": "#222", "labelPadding": 13, "titleFontSize": 14, "titleFontWeight": "normal", "titleColor": "#222", "titleY": 60, "titleBaseline": "middle", "labelFlush": false}},
  "y": {"field": "y", "type": "quantitative", "scale": {"domain": [-0.09, 2.366], "nice": false, "zero": false},
        "axis": {"values": [0, 0.5, 1, 1.5, 2], "format": ".1f", "title": "-log10(Padj)", "grid": false, "domain": false, "tickSize": 7, "tickColor": "#333", "labelFontSize": 12, "labelColor": "#222", "labelAngle": -90, "labelAlign": "center", "labelBaseline": "bottom", "labelPadding": 12, "titleFontSize": 14, "titleFontWeight": "normal", "titleColor": "#222", "titleX": -57, "titleBaseline": "middle", "labelFlush": false}}
},
"layer": [
  {"data": {"name": "core"}, "mark": {"type": "circle", "size": 42, "opacity": 1, "color": "black"}},
  {"data": {"name": "dots"}, "mark": {"type": "circle", "size": 9, "opacity": 1, "color": "black"}},
  {"data": {"name": "sig"}, "mark": {"type": "circle", "size": 22, "opacity": 1},
   "encoding": {"color": {"field": "g", "type": "nominal", "scale": {"domain": ["down", "up"], "range": ["#56B4E9", "#E8413A"]}, "legend": {"title": "Padj<0.05"}}}}
]
}
